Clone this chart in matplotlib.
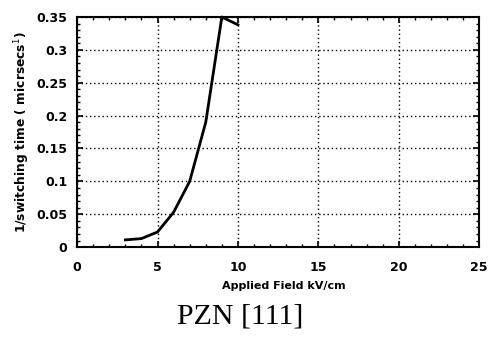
import matplotlib.pyplot as plt
from matplotlib.ticker import MultipleLocator

# Data
field = [3, 4, 5, 6, 7, 8, 9, 10]
inv_time = [0.011, 0.013, 0.023, 0.053, 0.100, 0.190, 0.350, 0.338]

x_ticks = [0, 5, 10, 15, 20, 25]
y_ticks = [0, 0.05, 0.1, 0.15, 0.2, 0.25, 0.3, 0.35]
y_labels = ["0", "0.05", "0.1", "0.15", "0.2", "0.25", "0.3", "0.35"]

fig = plt.figure(figsize=(4.91, 3.39), dpi=100)
ax = fig.add_axes([0.157, 0.271, 0.819, 0.679])

ax.plot(field, inv_time, color="black", linewidth=2, clip_on=False)

ax.set_xlim(0, 25)
ax.set_ylim(0, 0.35)
ax.set_xticks(x_ticks)
ax.set_yticks(y_ticks)
ax.set_yticklabels(y_labels)
ax.xaxis.set_minor_locator(MultipleLocator(1))
ax.yaxis.set_minor_locator(MultipleLocator(0.01))

ax.grid(True, which="major", color="black", linestyle=(0, (1, 2)), linewidth=1)
ax.tick_params(which="both", direction="in", top=True, right=True, color="black")
ax.tick_params(which="major", length=4, width=1.2, labelsize=9)
ax.tick_params(axis="x", which="major", pad=10)
ax.tick_params(axis="y", which="major", pad=7)
ax.tick_params(which="minor", length=2.5, width=1)
for lbl in ax.get_xticklabels() + ax.get_yticklabels():
    lbl.set_fontweight("bold")
for s in ax.spines.values():
    s.set_linewidth(1.5)

ax.set_ylabel("1/switching time ( micrsecs$^{1}$)", fontsize=8.8, fontweight="bold", labelpad=3)
fig.text(0.578, 0.155, "Applied Field kV/cm", ha="center", va="center",
         fontsize=8, fontweight="bold")

fig.text(0.49, 0.065, "PZN [111]", ha="center", va="center",
         fontsize=21.5, family="Liberation Serif")

plt.savefig("out.png", dpi=100)
